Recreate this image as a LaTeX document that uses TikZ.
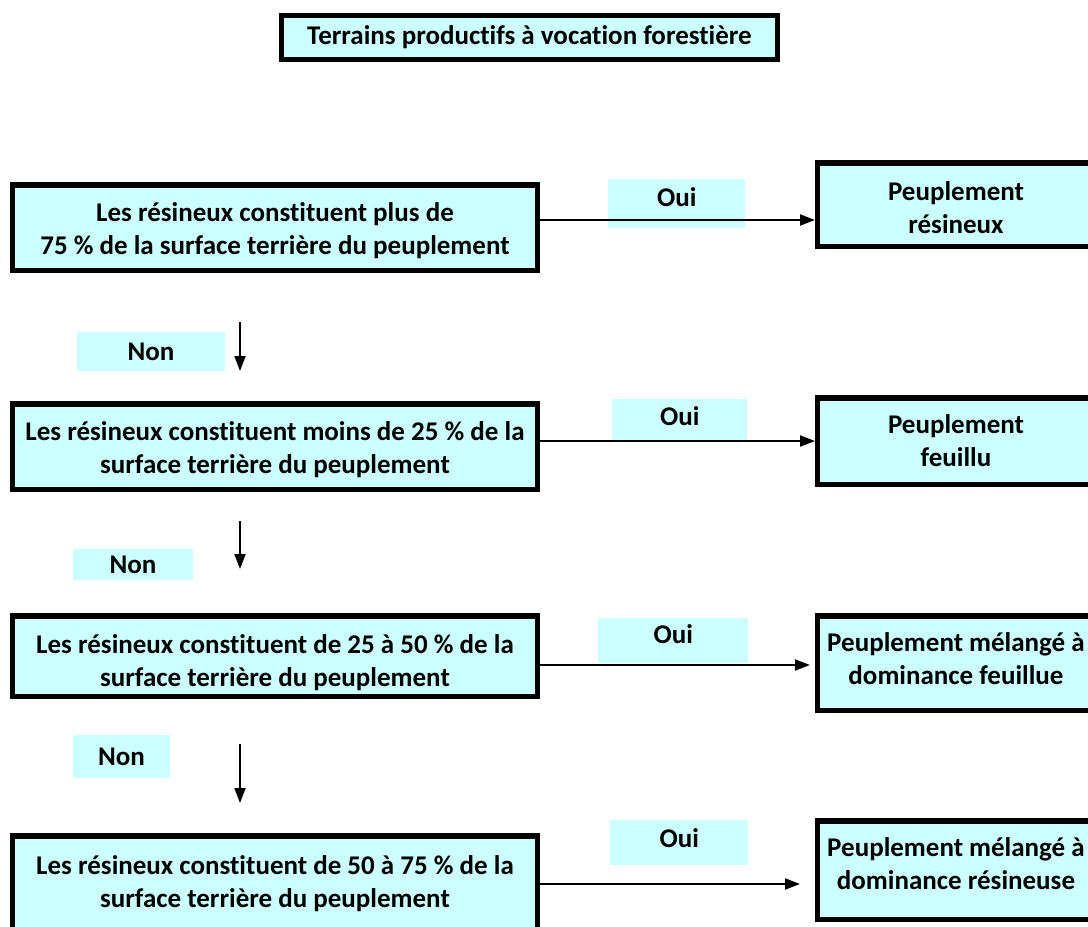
\documentclass[tikz,border=0pt]{standalone}
\usepackage{fontspec}
\setmainfont{Carlito}[Ligatures={NoCommon}]
\usetikzlibrary{arrows.meta}
\definecolor{boxcyan}{HTML}{CCFFFF}
\begin{document}
\begin{tikzpicture}[x=1pt,y=-1pt,
  mainbox/.style={draw=black, line width=5.5pt, fill=boxcyan, rectangle, inner sep=0pt,
    align=center, font=\fontsize{27}{33}\selectfont\bfseries},
  tshift/.style={text height=#1pt, text depth=62pt-#1pt},
  tag/.style={fill=boxcyan, rectangle, inner sep=0pt, align=center,
    font=\fontsize{27}{30}\selectfont\bfseries},
  arr/.style={line width=2pt, -{Triangle[length=15pt,width=11pt]}}]
\clip (0,0) rectangle (1088,927);
\fill[white] (0,0) rectangle (1088,927);

% title
\node[mainbox, minimum width=496pt, minimum height=44pt] (title) at (529.5,37.5)
  {Terrains productifs à vocation forestière};

% left boxes
\node[mainbox, tshift=58, minimum width=525pt, minimum height=85.5pt] (b1) at (275,227.5)
  {Les résineux constituent plus de\\75 \% de la surface terrière du peuplement};
\node[mainbox, tshift=58, minimum width=525pt, minimum height=85.5pt] (b2) at (275,446.5)
  {Les résineux constituent moins de 25 \% de la\\surface terrière du peuplement};
\node[mainbox, tshift=61.5, minimum width=525pt, minimum height=80.5pt] (b3) at (275,656)
  {Les résineux constituent de 25 à 50 \% de la\\surface terrière du peuplement};
\node[mainbox, tshift=49.5, minimum width=525pt, minimum height=106.5pt] (b4) at (275,889)
  {Les résineux constituent de 50 à 75 \% de la\\surface terrière du peuplement};

% right boxes
\node[mainbox, tshift=60, minimum width=277pt, minimum height=83.5pt] (r1) at (956,204.5)
  {Peuplement\\résineux};
\node[mainbox, tshift=56.5, minimum width=277pt, minimum height=86.5pt] (r2) at (956,441)
  {Peuplement\\feuillu};
\node[mainbox, tshift=52.5, minimum width=277pt, minimum height=94.5pt] (r3) at (956,663)
  {Peuplement mélangé à\\dominance feuillue};
\node[mainbox, tshift=50.5, minimum width=277pt, minimum height=98.5pt] (r4) at (956,870)
  {Peuplement mélangé à\\dominance résineuse};

% Oui labels
\node[tag, anchor=north west, minimum width=137pt, text height=27pt, text depth=22pt] (o1) at (608,179) {Oui};
\node[tag, anchor=north west, minimum width=135pt, text height=26pt, text depth=15pt] (o2) at (612,399) {Oui};
\node[tag, anchor=north west, minimum width=150pt, text height=25pt, text depth=20pt] (o3) at (598,618) {Oui};
\node[tag, anchor=north west, minimum width=138pt, text height=27pt, text depth=18pt] (o4) at (610,820) {Oui};

% Non labels
\node[tag, minimum width=148pt, minimum height=39pt] (n1) at (151,351.5) {Non};
\node[tag, minimum width=120pt, minimum height=31pt] (n2) at (133,564.5) {Non};
\node[tag, minimum width=97pt, minimum height=43pt] (n3) at (121.5,756.5) {Non};

% arrow coordinates
\coordinate (h1) at (815,220);
\coordinate (h2) at (815,441);
\coordinate (h3) at (810,665);
\coordinate (h4) at (800,884);
\coordinate (d1s) at (240,322); \coordinate (d1e) at (240,371);
\coordinate (d2s) at (240,521); \coordinate (d2e) at (240,569);
\coordinate (d3s) at (240,744); \coordinate (d3e) at (240,803);

% horizontal arrows
\draw[arr] (b1.east |- h1) -- (h1);
\draw[arr] (b2.east |- h2) -- (h2);
\draw[arr] (b3.east |- h3) -- (h3);
\draw[arr] (b4.east |- h4) -- (h4);

% vertical arrows
\draw[arr] (d1s) -- (d1e);
\draw[arr] (d2s) -- (d2e);
\draw[arr] (d3s) -- (d3e);
\end{tikzpicture}
\end{document}
